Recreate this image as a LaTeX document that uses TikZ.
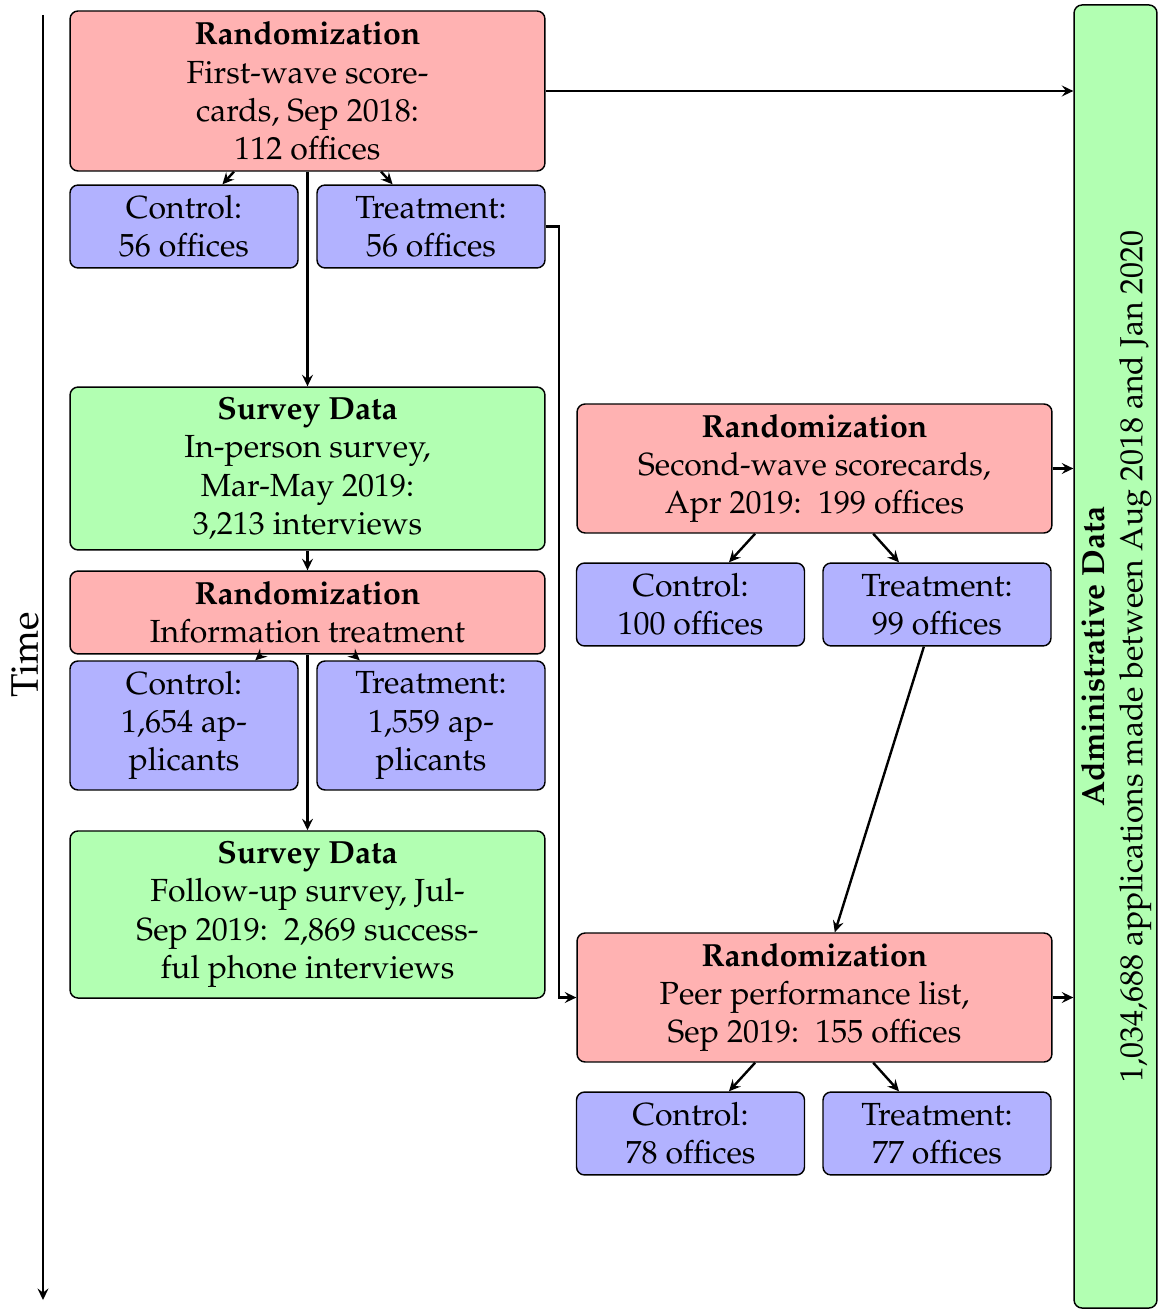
\documentclass[tikz,border=0pt]{standalone}
\usepackage[T1]{fontenc}
\usepackage{mathpazo}
\usepackage{graphicx}
\usetikzlibrary{arrows.meta}
\newcommand{\colsp}{:\hspace{0.2em} }
\tikzset{
  box/.style={draw=black,line width=0.45pt,rounded corners=2.5pt,align=center,inner sep=0pt,font=\normalsize},
  redbox/.style={box,fill=red!30,minimum width=148.4pt},
  greenbox/.style={box,fill=green!30,minimum width=148.4pt},
  bluebox/.style={box,fill=blue!30,minimum width=71.25pt,minimum height=25.9pt},
  arr/.style={line width=0.75pt,-{Stealth[length=3.6pt,width=3.4pt,inset=1.3pt]}}
}
\begin{document}
\begin{tikzpicture}[x=0.3125pt,y=-0.3125pt]
\useasboundingbox (0,0) rectangle (1157,1309);
% left column
\node[redbox,minimum height=50pt] (r1) at (307.5,91) {\textbf{Randomization}\\First-wave score-\\cards, Sep 2018:\\112 offices};
\node[bluebox] (c1) at (184,226.5) {Control:\\56 offices};
\node[bluebox] (t1) at (431,226.5) {Treatment:\\56 offices};
\node[greenbox,minimum height=50.9pt] (s1) at (307.5,468.5) {\textbf{Survey Data}\\In-person survey,\\Mar-May 2019:\\3,213 interviews};
\node[redbox,minimum height=25.9pt] (r2) at (307.5,612.5) {\textbf{Randomization}\\Information treatment};
\node[bluebox,minimum height=40.3pt] (c2) at (184,725.5) {Control:\\1,654 ap-\\plicants};
\node[bluebox,minimum height=40.3pt] (t2) at (431,725.5) {Treatment:\\1,559 ap-\\plicants};
\node[greenbox,minimum height=52.2pt] (s2) at (307.5,914.5) {\textbf{Survey Data}\\Follow-up survey, Jul-\\Sep 2019\colsp 2,869 success-\\ful phone interviews};
% right column
\node[redbox,minimum height=40.3pt] (r3) at (814.5,468.5) {\textbf{Randomization}\\Second-wave scorecards,\\Apr 2019\colsp 199 offices};
\node[bluebox] (c3) at (690.5,604.5) {Control:\\100 offices};
\node[bluebox] (t3) at (937,604.5) {Treatment:\\99 offices};
\node[redbox,minimum height=40.3pt] (r4) at (814.5,997.5) {\textbf{Randomization}\\Peer performance list,\\Sep 2019\colsp 155 offices};
\node[bluebox] (c4) at (690.5,1133.5) {Control:\\78 offices};
\node[bluebox] (t4) at (937,1133.5) {Treatment:\\77 offices};
% admin data
\node[greenbox,minimum width=25.9pt,minimum height=407.2pt] (admin) at (1115.5,656.5) {\rotatebox{90}{\begin{tabular}{@{}c@{}}\textbf{Administrative Data}\\1,034,688 applications made between Aug 2018 and Jan 2020\end{tabular}}};
% time
\coordinate (tstart) at (43,15);
\coordinate (tend) at (43,1300);
\draw[arr] (tstart) -- (tend);
\node[rotate=90,font=\large,inner sep=0pt] (timelabel) at (25,655) {Time};
% connectors
\draw[arr] (r1) -- (c1);
\draw[arr] (r1) -- (t1);
\draw[arr] (r1) -- (s1);
\draw[arr] (s1) -- (r2);
\draw[arr] (r2) -- (c2);
\draw[arr] (r2) -- (t2);
\draw[arr] (r2) -- (s2);
\draw[arr] (r1.east) -- (r1.east -| admin.west);
\draw[arr] (t1.east) -- ++(13,0) |- (r4.west);
\draw[arr] (r3.east) -- (r3.east -| admin.west);
\draw[arr] (r4.east) -- (r4.east -| admin.west);
\draw[arr] (r3) -- (c3);
\draw[arr] (r3) -- (t3);
\draw[arr] (t3) -- (r4);
\draw[arr] (r4) -- (c4);
\draw[arr] (r4) -- (t4);
\end{tikzpicture}
\end{document}
